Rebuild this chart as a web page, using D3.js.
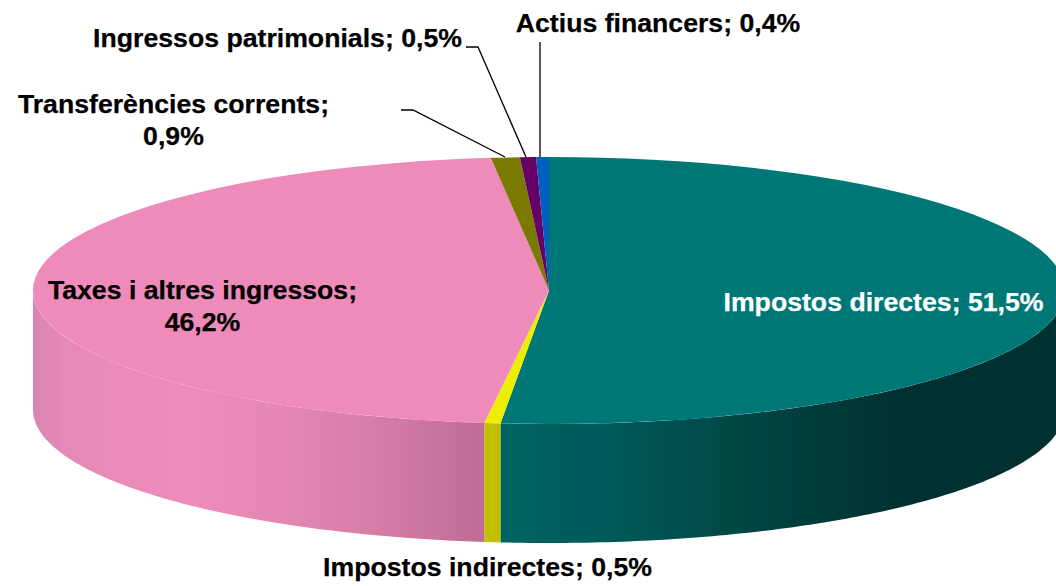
<!DOCTYPE html>
<html><head><meta charset="utf-8">
<script src="https://cdn.jsdelivr.net/npm/d3@7"></script>
<style>html,body{margin:0;padding:0;background:#fff;overflow:hidden}svg{display:block}</style>
</head><body><svg id="c" width="1056" height="586"></svg>
<script>
const categories=["Impostos directes","Impostos indirectes","Taxes i altres ingressos","Transferències corrents","Ingressos patrimonials","Actius financers"];
const values=[51.5,0.5,46.2,0.9,0.5,0.4];
const topColors=["#007777","#eeee00","#ee8bbb","#7a7a00","#660066","#0060c0"];
const labelLines=[["Impostos directes; 51,5%"],["Impostos indirectes; 0,5%"],["Taxes i altres ingressos;","46,2%"],["Transferències corrents;","0,9%"],["Ingressos patrimonials; 0,5%"],["Actius financers; 0,4%"]];
const labelPos=[[883.5,311],[487.5,576],[202.5,299],[173.5,113],[277.5,47],[658,32]];
const labelColors=["#fff","#000","#000","#000","#000","#000"];
const leaders=[null,null,null,[[401,110],[413,110],[505,157]],[[466,47],[478,47],[526,157]],[[540,42],[540,157]]];
const sideStops=[
 [[0,"#006464"],[0.2,"#005858"],[0.5,"#004040"],[0.72,"#003030"],[1,"#003030"]],
 [[0,"#c0c000"],[1,"#c0c000"]],
 [[0,"#d985b0"],[0.07,"#e689b6"],[0.35,"#ee8bbb"],[0.55,"#e586b4"],[0.75,"#d67ea8"],[1,"#be6c95"]]
];
const W=1056,H=586,cx=549,cy=290.5,rx=516,ry=133.5,depth=119;
const svg=d3.select("#c");
const defs=svg.append("defs");
const arcs=d3.pie().sort(null).value(d=>d)(values);
const ex=d3.scaleLinear().domain([-1,1]).range([cx-rx,cx+rx]);
const ey=d3.scaleLinear().domain([-1,1]).range([cy-ry,cy+ry]);
const pt=(a,dy=0)=>[ex(Math.sin(a)),ey(-Math.cos(a))+dy];
const vis0=Math.PI/2,vis1=Math.PI*1.5;
const line=d3.line();
arcs.forEach((a,i)=>{
  const s=Math.max(a.startAngle,vis0),e=Math.min(a.endAngle,vis1);
  if(e<=s||!sideStops[i])return;
  const x0=Math.min(pt(s)[0],pt(e)[0]),x1=Math.max(pt(s)[0],pt(e)[0]);
  const g=defs.append("linearGradient").attr("id","g"+i).attr("gradientUnits","userSpaceOnUse")
    .attr("x1",x0).attr("x2",x1).attr("y1",0).attr("y2",0);
  sideStops[i].forEach(t=>g.append("stop").attr("offset",t[0]).attr("stop-color",t[1]));
  const angs=d3.range(0,121).map(k=>s+(e-s)*k/120);
  const pts=angs.map(t=>pt(t)).concat(angs.slice().reverse().map(t=>pt(t,depth)));
  svg.append("path").attr("d",line(pts)+"Z").attr("fill",`url(#g${i})`);
});
const topFace=svg.append("g").attr("transform",`translate(${cx},${cy}) scale(1,${ry/rx})`);
const arc=d3.arc().innerRadius(0).outerRadius(rx);
topFace.selectAll("path").data(arcs).join("path").attr("d",arc).attr("fill",(d,i)=>topColors[i]);
leaders.forEach(l=>{if(l)svg.append("path").attr("d",line(l)).attr("fill","none").attr("stroke","#000").attr("stroke-width",1.3);});
labelLines.forEach((ls,i)=>{
  const t=svg.append("text").attr("text-anchor","middle").attr("font-family","'Liberation Sans',Arial,sans-serif")
    .attr("font-weight","bold").attr("font-size",26.67).attr("fill",labelColors[i])
    .attr("stroke",labelColors[i]).attr("stroke-width",0.25);
  ls.forEach((s,j)=>t.append("tspan").attr("x",labelPos[i][0]).attr("y",labelPos[i][1]+j*32).text(s));
});
</script></body></html>
